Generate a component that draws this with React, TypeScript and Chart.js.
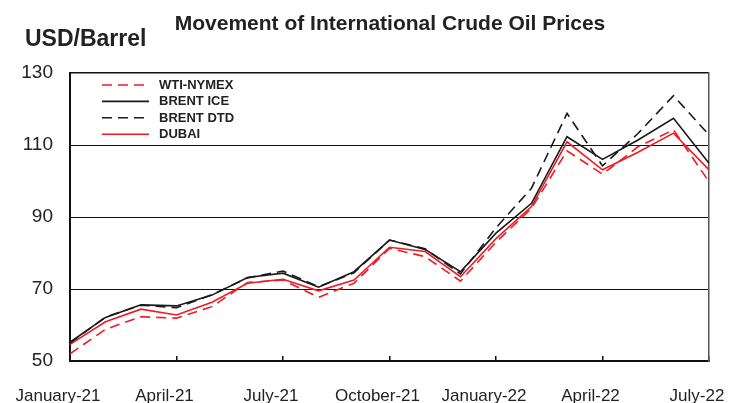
import React, { useEffect, useRef } from "react";
import { Chart, registerables } from "chart.js";

Chart.register(...registerables);

const months = [
  "January-21", "February-21", "March-21", "April-21", "May-21", "June-21",
  "July-21", "August-21", "September-21", "October-21", "November-21", "December-21",
  "January-22", "February-22", "March-22", "April-22", "May-22", "June-22", "July-22",
];

const wtiNymex = [52.0, 58.8, 62.3, 61.9, 65.1, 71.8, 72.5, 67.7, 71.6, 81.3, 79.0, 72.2, 83.0, 92.4, 108.4, 101.9, 109.5, 114.2, 99.8];
const brentIce = [55.2, 62.1, 65.6, 65.3, 68.3, 73.2, 74.4, 70.5, 74.8, 83.6, 81.0, 74.8, 85.5, 93.8, 112.3, 106.0, 111.4, 117.4, 104.9];
const brentDtd = [55.0, 62.2, 65.5, 64.8, 68.4, 73.1, 75.0, 70.6, 74.5, 83.6, 81.2, 74.2, 87.0, 98.0, 118.8, 104.2, 113.2, 123.7, 112.8];
const dubai = [54.6, 60.9, 64.4, 62.8, 66.3, 71.6, 72.7, 69.5, 72.5, 81.6, 80.4, 73.4, 84.0, 92.9, 110.9, 103.1, 108.0, 113.3, 103.1];

const seriesNames = ["WTI-NYMEX", "BRENT ICE", "BRENT DTD", "DUBAI"];
const yTicks = [50, 70, 90, 110, 130];

const RED = "#ee1c25";
const BLACK = "#1a1a1a";
const DASH = [10, 6];
const FONT = "'Liberation Sans', Arial, sans-serif";

const legendPlugin = {
  id: "insideLegend",
  afterDatasetsDraw(chart: any) {
    const { ctx, chartArea } = chart;
    ctx.save();
    chart.data.datasets.forEach((ds: any, i: number) => {
      const y = chartArea.top + 12 + i * 16.4;
      const x0 = chartArea.left + 32;
      ctx.beginPath();
      ctx.setLineDash(ds.borderDash || []);
      ctx.strokeStyle = ds.borderColor;
      ctx.lineWidth = 1.6;
      ctx.moveTo(x0, y);
      ctx.lineTo(x0 + 47, y);
      ctx.stroke();
      ctx.setLineDash([]);
      ctx.fillStyle = "#222";
      ctx.font = "bold 13px " + FONT;
      ctx.textBaseline = "middle";
      ctx.textAlign = "left";
      ctx.fillText(ds.label, x0 + 57, y + 0.5);
    });
    ctx.restore();
  },
};

export default function App() {
  const ref = useRef<HTMLCanvasElement>(null);

  useEffect(() => {
    document.body.style.margin = "0";
    const canvas = ref.current;
    if (!canvas) return;
    const chart = new Chart(canvas, {
      type: "line",
      data: {
        labels: months,
        datasets: [
          { label: seriesNames[0], data: wtiNymex, borderColor: RED, borderDash: DASH, borderWidth: 1.6, pointRadius: 0, tension: 0, fill: false },
          { label: seriesNames[1], data: brentIce, borderColor: BLACK, borderWidth: 1.6, pointRadius: 0, tension: 0, fill: false },
          { label: seriesNames[2], data: brentDtd, borderColor: BLACK, borderDash: DASH, borderWidth: 1.6, pointRadius: 0, tension: 0, fill: false },
          { label: seriesNames[3], data: dubai, borderColor: RED, borderWidth: 1.6, pointRadius: 0, tension: 0, fill: false },
        ],
      },
      options: {
        responsive: false,
        animation: false,
        layout: { padding: { top: 73, left: 0, right: 0, bottom: 0 } },
        plugins: {
          legend: { display: false },
          tooltip: { enabled: false },
          title: { display: false },
        },
        scales: {
          x: {
            type: "category",
            offset: false,
            grid: {
              drawOnChartArea: false,
              drawTicks: true,
              tickLength: -5,
              lineWidth: 1.5,
              color: (c: any) => (c.index % 3 === 0 ? "#111" : "rgba(0,0,0,0)"),
            },
            border: { color: "#111", width: 2 },
            ticks: {
              autoSkip: false,
              maxRotation: 0,
              minRotation: 0,
              padding: 30,
              labelOffset: -12,
              color: "#222",
              font: { family: FONT, size: 17 },
              callback: (_v: any, idx: number) => (idx % 3 === 0 ? months[idx] : ""),
            },
            afterFit: (s: any) => {
              s.height = 42;
              s.paddingLeft = 0;
              s.paddingRight = 0;
            },
          },
          y: {
            position: "left",
            min: 50,
            max: 130,
            afterBuildTicks: (s: any) => {
              s.ticks = yTicks.map((v) => ({ value: v }));
            },
            grid: {
              drawTicks: false,
              color: "#111",
              lineWidth: (c: any) => (c.tick && c.tick.value === 130 ? 1.5 : 1),
            },
            border: { color: "#111", width: 2 },
            ticks: {
              padding: 17,
              color: "#222",
              font: { family: FONT, size: 19 },
            },
            afterFit: (s: any) => {
              s.width = 70;
              s.paddingTop = 0;
              s.paddingBottom = 0;
            },
          },
          y2: {
            position: "right",
            display: true,
            min: 50,
            max: 130,
            grid: { drawOnChartArea: false, drawTicks: false },
            border: { color: "#555", width: 1.5 },
            ticks: { display: false },
            afterFit: (s: any) => {
              s.width = 24;
              s.paddingTop = 0;
              s.paddingBottom = 0;
            },
          },
        },
      },
      plugins: [legendPlugin],
    } as any);
    return () => chart.destroy();
  }, []);

  return (
    <div style={{ position: "relative", width: 733, height: 403, overflow: "hidden", background: "#fff" }}>
      <canvas ref={ref} width={733} height={403} style={{ position: "absolute", left: 0, top: 0, width: 733, height: 403 }} />
      <div
        style={{
          position: "absolute",
          left: 90,
          top: 12,
          width: 600,
          textAlign: "center",
          font: "bold 21px " + FONT,
          lineHeight: "21px",
          color: "#222",
          whiteSpace: "nowrap",
        }}
      >
        Movement of International Crude Oil Prices
      </div>
      <div
        style={{
          position: "absolute",
          left: 25,
          top: 27,
          font: "bold 23px " + FONT,
          lineHeight: "23px",
          color: "#222",
          whiteSpace: "nowrap",
        }}
      >
        USD/Barrel
      </div>
    </div>
  );
}
